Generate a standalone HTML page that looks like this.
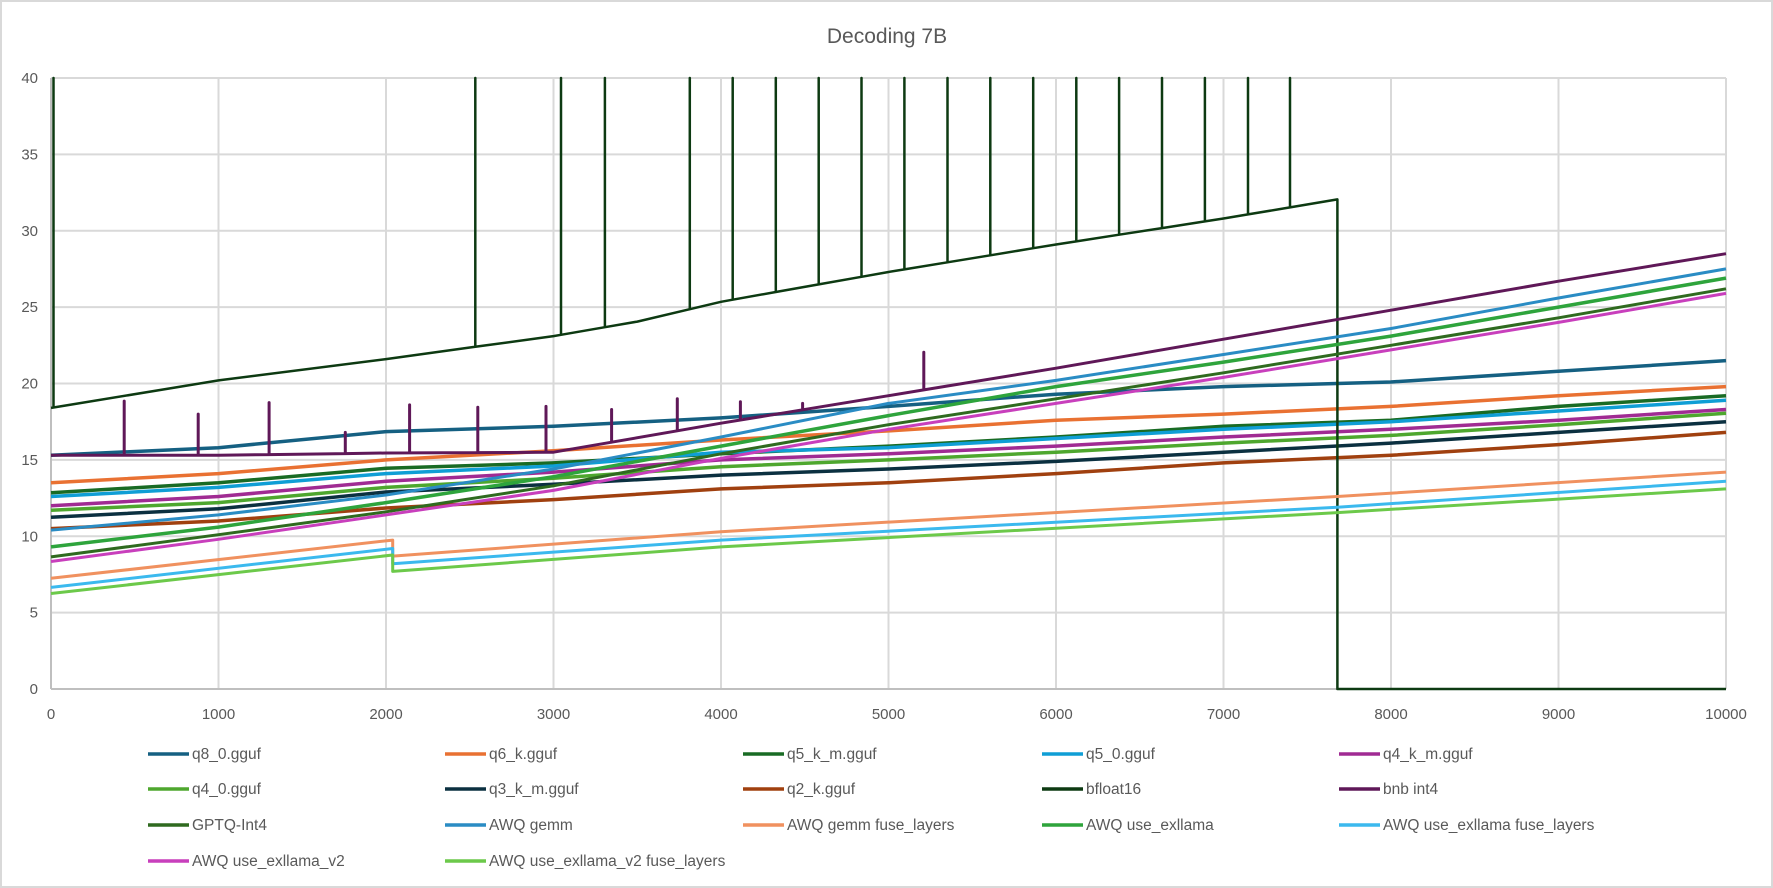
<!DOCTYPE html>
<html><head><meta charset="utf-8"><title>Decoding 7B</title>
<style>
html,body{margin:0;padding:0;background:#fff;}
svg{display:block;font-family:"Liberation Sans",sans-serif;}
</style></head>
<body>
<svg id="chart" width="1773" height="888" viewBox="0 0 1773 888" xmlns="http://www.w3.org/2000/svg">
<rect x="1" y="1" width="1771" height="886" fill="#fff" stroke="#d9d9d9" stroke-width="2"/>
<text x="887" y="43" text-anchor="middle" font-size="21" fill="#595959">Decoding 7B</text>
<g id="grid"></g>
<g id="axes"></g>
<g id="series"></g>
<g id="legend"></g>
</svg>
<script>
const xTicks = [0,1000,2000,3000,4000,5000,6000,7000,8000,9000,10000];
const yTicks = [0,5,10,15,20,25,30,35,40];
const xs = [0,1000,2000,3000,4000,5000,6000,7000,8000,9000,10000];

const q8Vals   = [15.3,15.8,16.85,17.2,17.75,18.5,19.3,19.8,20.1,20.8,21.5];
const q6Vals   = [13.5,14.1,15.0,15.6,16.3,16.9,17.6,18.0,18.5,19.2,19.8];
const q5kmVals = [12.85,13.5,14.45,14.8,15.4,15.9,16.5,17.2,17.6,18.5,19.2];
const q50Vals  = [12.6,13.2,14.1,14.6,15.5,15.8,16.4,17.0,17.5,18.2,18.9];
const q4kmVals = [12.0,12.6,13.6,14.2,15.0,15.4,15.9,16.5,17.0,17.6,18.3];
const q40Vals  = [11.7,12.2,13.2,13.8,14.55,15.0,15.5,16.1,16.6,17.3,18.05];
const q3Vals   = [11.25,11.8,12.9,13.4,14.0,14.4,14.9,15.5,16.1,16.8,17.5];
const q2Vals   = [10.5,11.0,11.85,12.4,13.1,13.5,14.1,14.8,15.3,16.0,16.8];
const bnbVals  = [15.3,15.3,15.45,15.5,17.4,19.2,21.0,22.9,24.8,26.7,28.5];
const gptqVals = [8.65,10.1,11.6,13.3,15.4,17.3,19.0,20.7,22.5,24.3,26.2];
const gemmVals = [10.4,11.4,12.7,14.4,16.5,18.7,20.2,21.9,23.6,25.6,27.5];
const exlVals  = [9.3,10.6,12.2,13.9,15.9,17.9,19.8,21.4,23.1,25.0,26.9];
const v2Vals   = [8.35,9.8,11.4,13.0,15.1,17.0,18.7,20.4,22.2,24.0,25.9];

const fuseX        = [0,2040,2040,4000,7680,10000];
const gemmFuseVals = [7.25,9.75,8.7,10.3,12.6,14.2];
const exlFuseVals  = [6.65,9.2,8.2,9.75,11.9,13.6];
const v2FuseVals   = [6.25,8.77,7.7,9.3,11.55,13.1];

const bfX    = [0,1000,2000,2600,3000,3500,4000,5000,6000,7000,7680,7680,10000];
const bfVals = [18.4,20.2,21.6,22.5,23.1,24.05,25.35,27.3,29.1,30.8,32.05,0,0];
const bfSpikeX = [15,2533,3045,3307,3814,4070,4327,4583,4839,5095,5352,5608,5864,6121,6377,6633,6889,7146,7397];
const bfSpikePeak = 40;

const bnbSpikeX    = [437,879,1302,1757,2141,2548,2955,3347,3739,4116,4487,5211];
const bnbSpikePeak = [18.85,18.0,18.75,16.8,18.6,18.45,18.5,18.3,19.0,18.8,18.7,22.05];

const NS="http://www.w3.org/2000/svg";
const L=51,R=1726,T=78,B=689;
function X(v){return L+(v-0)/(10000-0)*(R-L);}
function Y(v){return B-(v-0)/(40-0)*(B-T);}
function interp(xa,ya,x){for(let i=1;i<xa.length;i++){if(x<=xa[i]){const t=(x-xa[i-1])/((xa[i]-xa[i-1])||1);return ya[i-1]+t*(ya[i]-ya[i-1]);}}return ya[ya.length-1];}
function mk(tag,attrs,parent){const e=document.createElementNS(NS,tag);for(const k in attrs)e.setAttribute(k,attrs[k]);parent.appendChild(e);return e;}

const grid=document.getElementById('grid'),axes=document.getElementById('axes'),ser=document.getElementById('series'),leg=document.getElementById('legend');
yTicks.forEach(v=>{
  if(v>0){const g=mk('line',{x1:L,x2:R,y1:Y(v),y2:Y(v),stroke:'#d9d9d9','stroke-width':2},grid);
  
  }
  const t=mk('text',{x:38,y:Y(v)+5,'text-anchor':'end','font-size':15,fill:'#595959'},axes);t.textContent=v;
  
  
});
xTicks.forEach(v=>{
  if(v>0){const g=mk('line',{x1:X(v),x2:X(v),y1:T,y2:B,stroke:'#d9d9d9','stroke-width':2},grid);
  
  }
  const t=mk('text',{x:X(v),y:719,'text-anchor':'middle','font-size':15,fill:'#595959'},axes);t.textContent=v;
  
  
});
const ya=mk('line',{x1:L,x2:L,y1:T,y2:B,stroke:'#bfbfbf','stroke-width':2},axes);


const xa=mk('line',{x1:L,x2:R,y1:B,y2:B,stroke:'#bfbfbf','stroke-width':2},axes);



function pathFrom(px,py){return px.map((x,i)=>(i?'L':'M')+X(x).toFixed(1)+' '+Y(py[i]).toFixed(1)).join(' ');}
function withSpikes(bx,by,sx,peaks){
  const pts=bx.map((x,i)=>[x,by[i]]);
  sx.forEach((x,i)=>{const b=interp(bx,by,x);const p=Array.isArray(peaks)?peaks[i]:peaks;pts.push([x-0.01,b],[x,p],[x+0.01,b]);});
  pts.sort((a,b)=>a[0]-b[0]||0);
  return pts;
}

const seriesDefs=[
 {name:'q8_0.gguf',color:'#156082',x:xs,y:q8Vals,w:3.5},
 {name:'q6_k.gguf',color:'#E97132',x:xs,y:q6Vals,w:3.5},
 {name:'q5_k_m.gguf',color:'#196B24',x:xs,y:q5kmVals,w:3.5},
 {name:'q5_0.gguf',color:'#0F9ED5',x:xs,y:q50Vals,w:3.5},
 {name:'q4_k_m.gguf',color:'#A02B93',x:xs,y:q4kmVals,w:3.5},
 {name:'q4_0.gguf',color:'#4EA72E',x:xs,y:q40Vals,w:3.5},
 {name:'q3_k_m.gguf',color:'#0B3040',x:xs,y:q3Vals,w:3.5},
 {name:'q2_k.gguf',color:'#A0400F',x:xs,y:q2Vals,w:3.5},
 {name:'bfloat16',color:'#0D3A12',x:bfX,y:bfVals,w:2.5,spikes:bfSpikeX,peaks:bfSpikePeak},
 {name:'bnb int4',color:'#5F1858',x:xs,y:bnbVals,w:3,spikes:bnbSpikeX,peaks:bnbSpikePeak},
 {name:'GPTQ-Int4',color:'#2F6A1F',x:xs,y:gptqVals,w:3},
 {name:'AWQ gemm',color:'#2A8CC4',x:xs,y:gemmVals,w:3},
 {name:'AWQ gemm fuse_layers',color:'#F0915F',x:fuseX,y:gemmFuseVals,w:3},
 {name:'AWQ use_exllama',color:'#2EA43C',x:xs,y:exlVals,w:3.5},
 {name:'AWQ use_exllama fuse_layers',color:'#3BB9EE',x:fuseX,y:exlFuseVals,w:3},
 {name:'AWQ use_exllama_v2',color:'#C83FBC',x:xs,y:v2Vals,w:3},
 {name:'AWQ use_exllama_v2 fuse_layers',color:'#6CC94A',x:fuseX,y:v2FuseVals,w:3}
];
const legCols=[148,445,743,1042,1339],legRows=[754,789,825,861];
seriesDefs.forEach((s,i)=>{
  let d;
  if(s.spikes){const pts=withSpikes(s.x,s.y,s.spikes,s.peaks);d=pathFrom(pts.map(p=>p[0]),pts.map(p=>p[1]));}
  else d=pathFrom(s.x,s.y);
  const p=mk('path',{d:d,fill:'none',stroke:s.color,'stroke-width':s.w,'stroke-linejoin':'round'},ser);
  
  
  const cx=legCols[i%5],cy=legRows[Math.floor(i/5)];
  const g=mk('g',{},leg);
  
  
  mk('line',{x1:cx,x2:cx+41,y1:cy,y2:cy,stroke:s.color,'stroke-width':3.5},g);
  const t=mk('text',{x:cx+44,y:cy+5,'font-size':15.5,fill:'#595959'},g);t.textContent=s.name;
});
</script>
</body></html>
